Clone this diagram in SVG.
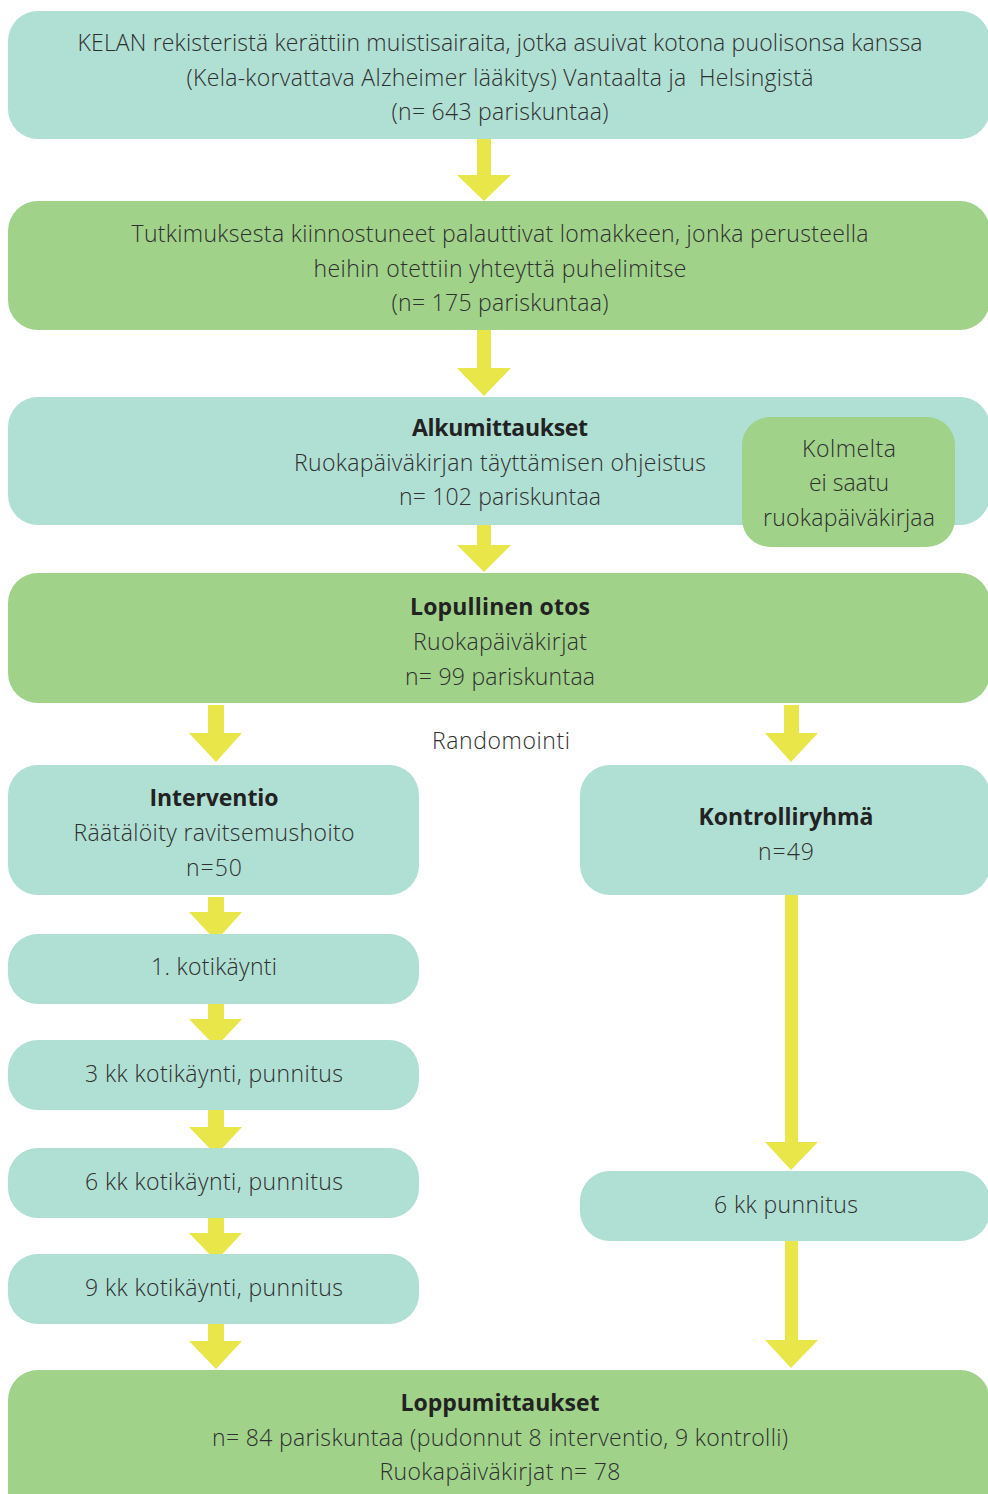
<svg xmlns="http://www.w3.org/2000/svg" width="988" height="1494" viewBox="0 0 988 1494">
<defs>
<style>
.teal{fill:#b0dfd3}
.green{fill:#a0d28a}
.arr{fill:#e9e64a}
text{font-family:"Open Sans","Noto Sans",sans-serif;font-size:23px;fill:#2f2f2f;text-anchor:middle;font-weight:300}
.b{font-weight:700;fill:#222}
</style>
</defs>
<rect width="988" height="1494" fill="#ffffff"/>
<g id="connectors">
<path class="arr" d="M477 139h14v36h20l-27 26l-27-26h20z"/>
<path class="arr" d="M477 330h14v38h20l-27 28l-27-28h20z"/>
<path class="arr" d="M477 524h14v21h20l-27 27l-27-27h20z"/>
<path class="arr" d="M208 705h16v28h18l-26 29l-27-29h19z"/>
<path class="arr" d="M784 705h15v28h19l-27 29l-26-29h19z"/>
<path class="arr" d="M208 897h16v15h18l-26 29l-27-29h19z"/>
<path class="arr" d="M208 1004h16v15h18l-26 28l-27-28h19z"/>
<path class="arr" d="M208 1110h16v17h18l-26 28l-27-28h19z"/>
<path class="arr" d="M208 1218h16v15h18l-26 28l-27-28h19z"/>
<path class="arr" d="M208 1324h16v17h18l-26 28l-27-28h19z"/>
<path class="arr" d="M785 895h13v247h20l-27 28l-26-28h20z"/>
<path class="arr" d="M785 1241h13v99h20l-27 28l-26-28h20z"/>
</g>
<g id="n1">
<rect class="teal" x="8" y="11" width="982" height="128" rx="30"/>
<text x="500" y="51" textLength="845">KELAN rekisteristä kerättiin muistisairaita, jotka asuivat kotona puolisonsa kanssa</text>
<text x="500" y="86" textLength="627" xml:space="preserve">(Kela-korvattava Alzheimer lääkitys) Vantaalta ja  Helsingistä</text>
<text x="500" y="120" textLength="217">(n= 643 pariskuntaa)</text>
</g>
<g id="n2">
<rect class="green" x="8" y="201" width="982" height="129" rx="30"/>
<text x="500" y="242" textLength="737">Tutkimuksesta kiinnostuneet palauttivat lomakkeen, jonka perusteella</text>
<text x="500" y="277" textLength="373">heihin otettiin yhteyttä puhelimitse</text>
<text x="500" y="311" textLength="217">(n= 175 pariskuntaa)</text>
</g>
<g id="n3">
<rect class="teal" x="8" y="397" width="982" height="128" rx="30"/>
<text class="b" x="500" y="436" textLength="176">Alkumittaukset</text>
<text x="500" y="471" textLength="412">Ruokapäiväkirjan täyttämisen ohjeistus</text>
<text x="500" y="505" textLength="202">n= 102 pariskuntaa</text>
</g>
<g id="n3b">
<rect class="green" x="742" y="417" width="213" height="130" rx="28"/>
<text x="849" y="457" textLength="94">Kolmelta</text>
<text x="849" y="491" textLength="80">ei saatu</text>
<text x="849" y="526" textLength="172">ruokapäiväkirjaa</text>
</g>
<g id="n4">
<rect class="green" x="8" y="573" width="982" height="130" rx="30"/>
<text class="b" x="500" y="615" textLength="180">Lopullinen otos</text>
<text x="500" y="650" textLength="174">Ruokapäiväkirjat</text>
<text x="500" y="685" textLength="190">n= 99 pariskuntaa</text>
</g>
<g id="rand">
<text x="501" y="749" textLength="138">Randomointi</text>
</g>
<g id="n5">
<rect class="teal" x="8" y="765" width="411" height="130" rx="30"/>
<text class="b" x="214" y="806" textLength="129">Interventio</text>
<text x="214" y="841" textLength="281">Räätälöity ravitsemushoito</text>
<text x="214" y="876" textLength="56">n=50</text>
</g>
<g id="n6">
<rect class="teal" x="580" y="765" width="410" height="130" rx="30"/>
<text class="b" x="786" y="825" textLength="175">Kontrolliryhmä</text>
<text x="786" y="860" textLength="56">n=49</text>
</g>
<g id="n7">
<rect class="teal" x="8" y="934" width="411" height="70" rx="30"/>
<text x="214" y="975" textLength="126">1. kotikäynti</text>
</g>
<g id="n8">
<rect class="teal" x="8" y="1040" width="411" height="70" rx="30"/>
<text x="214" y="1082" textLength="258">3 kk kotikäynti, punnitus</text>
</g>
<g id="n9">
<rect class="teal" x="8" y="1148" width="411" height="70" rx="30"/>
<text x="214" y="1190" textLength="258">6 kk kotikäynti, punnitus</text>
</g>
<g id="n10">
<rect class="teal" x="8" y="1254" width="411" height="70" rx="30"/>
<text x="214" y="1296" textLength="258">9 kk kotikäynti, punnitus</text>
</g>
<g id="n11">
<rect class="teal" x="580" y="1171" width="410" height="70" rx="30"/>
<text x="786" y="1213" textLength="144">6 kk punnitus</text>
</g>
<g id="n12">
<rect class="green" x="8" y="1370" width="982" height="154" rx="30"/>
<text class="b" x="500" y="1411" textLength="199">Loppumittaukset</text>
<text x="500" y="1446" textLength="576">n= 84 pariskuntaa (pudonnut 8 interventio, 9 kontrolli)</text>
<text x="500" y="1480" textLength="241">Ruokapäiväkirjat n= 78</text>
</g>
</svg>
